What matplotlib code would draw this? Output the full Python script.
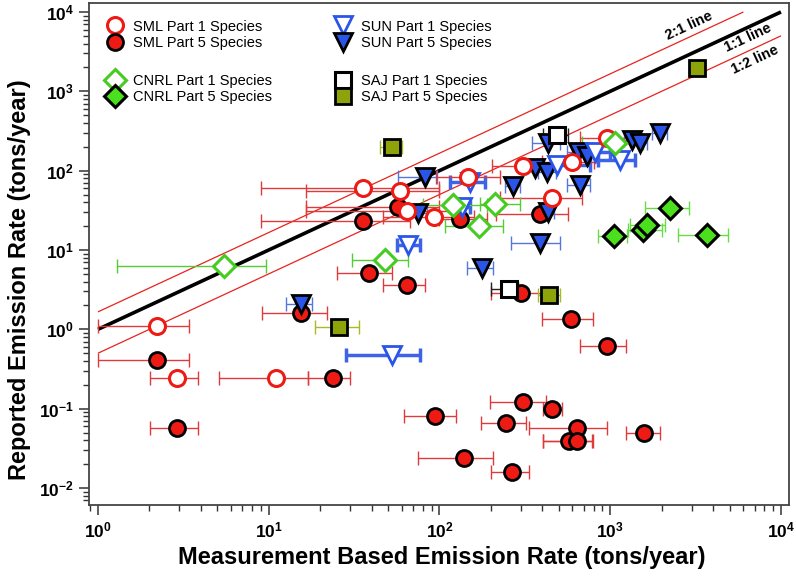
import numpy as np
import matplotlib
matplotlib.use("Agg")
import matplotlib.pyplot as plt
from matplotlib.lines import Line2D
from matplotlib.ticker import LogLocator, FuncFormatter, NullFormatter

plt.rcParams['font.family'] = ['Liberation Sans', 'DejaVu Sans']
plt.rcParams['mathtext.fontset'] = 'custom'
plt.rcParams['mathtext.rm'] = 'Liberation Sans'
plt.rcParams['mathtext.bf'] = 'Liberation Sans:bold'

# ---------------- data (tons/year) ----------------
# SML Part 1 (open red circles)
sml1_x  = [2.22, 2.91, 11.1, 35.8, 58.7, 64.8, 92.9, 146, 310, 454, 595, 953]
sml1_y  = [1.10, 0.246, 0.246, 61.2, 56.1, 31.1, 25.9, 83.0, 115, 45, 130, 257]
sml1_lo = [1.0, 2.02, 5.1, 8.97, 16.5, 16.5, 46.9, 96, 202, 226, 400, 664]
sml1_hi = [3.4, 3.83, 16.9, 100, 100, 140, 160, 225, 377, 680, 800, 1244]

# SML Part 5 (filled red circles)
sml5_x  = [2.23, 2.91, 15.4, 23.7, 35.8, 57.4, 38.8, 64.8, 93.7, 140, 132, 246,
           267, 299, 310, 388, 458, 591, 641, 576, 636, 953, 1582]
sml5_y  = [0.411, 0.0576, 1.62, 0.241, 23.5, 34.7, 5.19, 3.66, 0.081, 0.0241, 24.5, 0.0655,
           0.0158, 2.85, 0.1226, 28.5, 0.099, 1.35, 0.0576, 0.0395, 0.0395, 0.623, 0.049]
sml5_lo = [1.0, 2.02, 9.1, 16.9, 8.97, 16.5, 25, 46.5, 61.6, 75, 100, 176,
           200, 200, 198, 215, 402, 400, 334, 405, 405, 662, 1244]
sml5_hi = [3.4, 3.83, 21.8, 29.9, 67, 100, 53, 82.6, 125, 205, 190, 322,
           334, 420, 419, 563, 520, 796, 956, 779, 790, 1232, 1960]

# SUN Part 1 (open blue triangles)
sun1_x  = [52.5, 65.7, 151, 135, 486, 814, 1140]
sun1_y  = [0.475, 11.6, 72, 35, 118, 174, 137]
sun1_lo = [28.4, 56.1, 115, 120, 397, 640, 848]
sun1_hi = [76.9, 76.9, 185, 150, 761, 1000, 1397]

# SUN Part 5 (filled blue triangles)
sun5_x  = [15.4, 82.2, 75.1, 177, 268, 362, 424, 388, 434, 432, 650, 728, 665, 1336, 1493, 1955]
sun5_y  = [2.09, 84.3, 29.1, 5.9, 64.3, 107, 97.4, 12.4, 222, 30.2, 174, 151, 66.2, 245, 222, 297]
sun5_lo = [12.7, 57.4, 65, 144, 242, 320, 380, 264, 347, 400, 560, 640, 556, 1200, 1330, 1750]
sun5_hi = [17.8, 96.3, 85, 205, 296, 410, 480, 507, 508, 470, 760, 830, 761, 1500, 1650, 2150]

# CNRL Part 1 (open green diamonds)
cnrl1_x  = [5.5, 48, 120, 170, 211, 1067]
cnrl1_y  = [6.36, 7.5, 37, 20.3, 37.8, 222]
cnrl1_lo = [1.29, 30.6, 80, 107, 173, 680]
cnrl1_hi = [9.6, 65.5, 190, 237, 296, 1563]

# CNRL Part 5 (filled green diamonds)
cnrl5_x  = [1056, 1563, 1634, 2239, 3673]
cnrl5_y  = [15.0, 17.9, 20.7, 33.5, 15.5]
cnrl5_lo = [850, 1270, 1300, 1601, 2483]
cnrl5_hi = [1250, 2000, 2100, 2900, 4880]

# SAJ Part 1 (open black squares)
saj1_x  = [486, 255]
saj1_y  = [283, 3.2]
saj1_lo = [405, 201]
saj1_hi = [568, 290]

# SAJ Part 5 (olive squares)
saj5_x  = [25.8, 52.5, 438, 3236]
saj5_y  = [1.06, 201, 2.72, 1963]
saj5_lo = [18.7, 44.9, 377, 2900]
saj5_hi = [33.9, 60, 508, 3600]

# reference lines (reported = ratio * measured)
line_names  = ['2:1 line', '1:1 line', '1:2 line']
line_ratios = [1.66, 1.0, 0.5]
line_xmin, line_ymax = 1.0, 1.0e4

# ---------------- figure ----------------
W, H = 796, 578
fig = plt.figure(figsize=(W / 100, H / 100), dpi=100)
ax = fig.add_axes([89 / W, 1 - 505 / H, 700 / W, 502 / H])
ax.set_xscale('log')
ax.set_yscale('log')
ax.set_xlim(10 ** -0.0527, 10 ** 4.047)
ax.set_ylim(10 ** -2.214, 10 ** 4.113)

# lines
line_colors = ['#E8231E', 'black', '#E8231E']
line_widths = [0.9, 2.6, 0.9]
for r, c, lw in zip(line_ratios, line_colors, line_widths):
    xe = min(line_ymax, line_ymax / r)
    ax.plot([line_xmin, xe], [r * line_xmin, r * xe], color=c, lw=lw, zorder=1.5,
            solid_capstyle='butt')

# text for lines
lab_pos = [(2900, 6700), (6410, 4730), (7040, 2495)]
for name, (tx, ty) in zip(line_names, lab_pos):
    ax.text(tx, ty, name, rotation=25, ha='center', va='center',
            fontsize=10.5, fontweight='bold', zorder=6)


def series(x, y, lo, hi, ecolor, elw, marker, ms, mfc, mec, mew, z):
    x = np.asarray(x, float)
    y = np.asarray(y, float)
    lo = np.asarray(lo, float)
    hi = np.asarray(hi, float)
    ax.errorbar(x, y, xerr=[x - lo, hi - x], fmt='none', ecolor=ecolor,
                elinewidth=elw, capsize=5, capthick=elw, zorder=2)
    ax.plot(x, y, linestyle='none', marker=marker, ms=ms, mfc=mfc, mec=mec,
            mew=mew, zorder=z)


RED = '#EE1A14'
BLUE = '#2A55E8'
GREEN = '#4BE01E'
OLIVE = '#8EA20A'

series(sml5_x, sml5_y, sml5_lo, sml5_hi, '#E03A3A', 1.0, 'o', 11.5, RED, 'black', 2.0, 3)
series(sun5_x, sun5_y, sun5_lo, sun5_hi, '#5577DD', 1.0, 'v', 13.5, BLUE, 'black', 2.0, 3.1)
series(sun1_x, sun1_y, sun1_lo, sun1_hi, '#3D63E6', 2.5, 'v', 13.5, 'white', BLUE, 2.0, 3.2)
series(sml1_x, sml1_y, sml1_lo, sml1_hi, '#E03A3A', 1.0, 'o', 11.5, 'white', RED, 2.2, 3.3)
series(cnrl1_x, cnrl1_y, cnrl1_lo, cnrl1_hi, '#55CC33', 1.0, 'D', 11.5, 'white', '#45CC20', 2.2, 3.4)
series(cnrl5_x, cnrl5_y, cnrl5_lo, cnrl5_hi, '#66DD44', 1.0, 'D', 11.5, GREEN, 'black', 2.2, 3.5)
series(saj1_x, saj1_y, saj1_lo, saj1_hi, '#222222', 1.0, 's', 11, 'white', 'black', 2.2, 3.6)
series(saj5_x, saj5_y, saj5_lo, saj5_hi, '#AABB22', 1.0, 's', 11, OLIVE, 'black', 2.0, 3.7)

# ---------------- axes styling ----------------
fmt = FuncFormatter(lambda v, p: r'$\mathbf{10^{%d}}$' % int(round(np.log10(v))))
for axis in (ax.xaxis, ax.yaxis):
    axis.set_major_locator(LogLocator(base=10, numticks=20))
    axis.set_minor_locator(LogLocator(base=10, subs=np.arange(2, 10), numticks=20))
    axis.set_major_formatter(fmt)
    axis.set_minor_formatter(NullFormatter())
ax.tick_params(which='major', direction='out', length=7, width=1.1, labelsize=12.5,
               pad=4, color='#333333')
ax.tick_params(which='minor', direction='out', length=4, width=1.0, color='#333333')
for s in ax.spines.values():
    s.set_color('#444444')
    s.set_linewidth(1.3)

ax.set_xlabel('Measurement Based Emission Rate (tons/year)', fontsize=17,
              fontweight='bold')
ax.set_ylabel('Reported Emission Rate (tons/year)', fontsize=17, fontweight='bold')
ax.xaxis.set_label_coords(0.504, -0.082)
ax.yaxis.set_label_coords(-0.083, 0.448)

# ---------------- legends ----------------
FS = 10.5


def add_legend(handles, labels, px, py):
    leg = ax.legend(handles, labels, loc='upper left',
                    bbox_to_anchor=(px / W, 1 - py / H),
                    bbox_transform=fig.transFigure, frameon=False,
                    fontsize=FS, borderpad=0, borderaxespad=0,
                    handlelength=1.2, handletextpad=0.63, labelspacing=0.16)
    ax.add_artist(leg)
    ax.legend_ = None


def mk(marker, ms, mfc, mec, mew):
    return Line2D([], [], linestyle='none', marker=marker, ms=ms, mfc=mfc,
                  mec=mec, mew=mew)


add_legend([mk('o', 11.5, 'white', RED, 2.2), mk('o', 11.5, RED, 'black', 2.0)],
           ['SML Part 1 Species', 'SML Part 5 Species'], 106, 19.5)
add_legend([mk('v', 13.5, 'white', BLUE, 2.0), mk('v', 13.5, BLUE, 'black', 2.0)],
           ['SUN Part 1 Species', 'SUN Part 5 Species'], 334, 19.5)
add_legend([mk('D', 11.5, 'white', '#45CC20', 2.2), mk('D', 11.5, GREEN, 'black', 2.2)],
           ['CNRL Part 1 Species', 'CNRL Part 5 Species'], 106, 74)
add_legend([mk('s', 11, 'white', 'black', 2.2), mk('s', 11, OLIVE, 'black', 2.0)],
           ['SAJ Part 1 Species', 'SAJ Part 5 Species'], 334, 74)

fig.savefig('out.png', dpi=100, facecolor='white')
